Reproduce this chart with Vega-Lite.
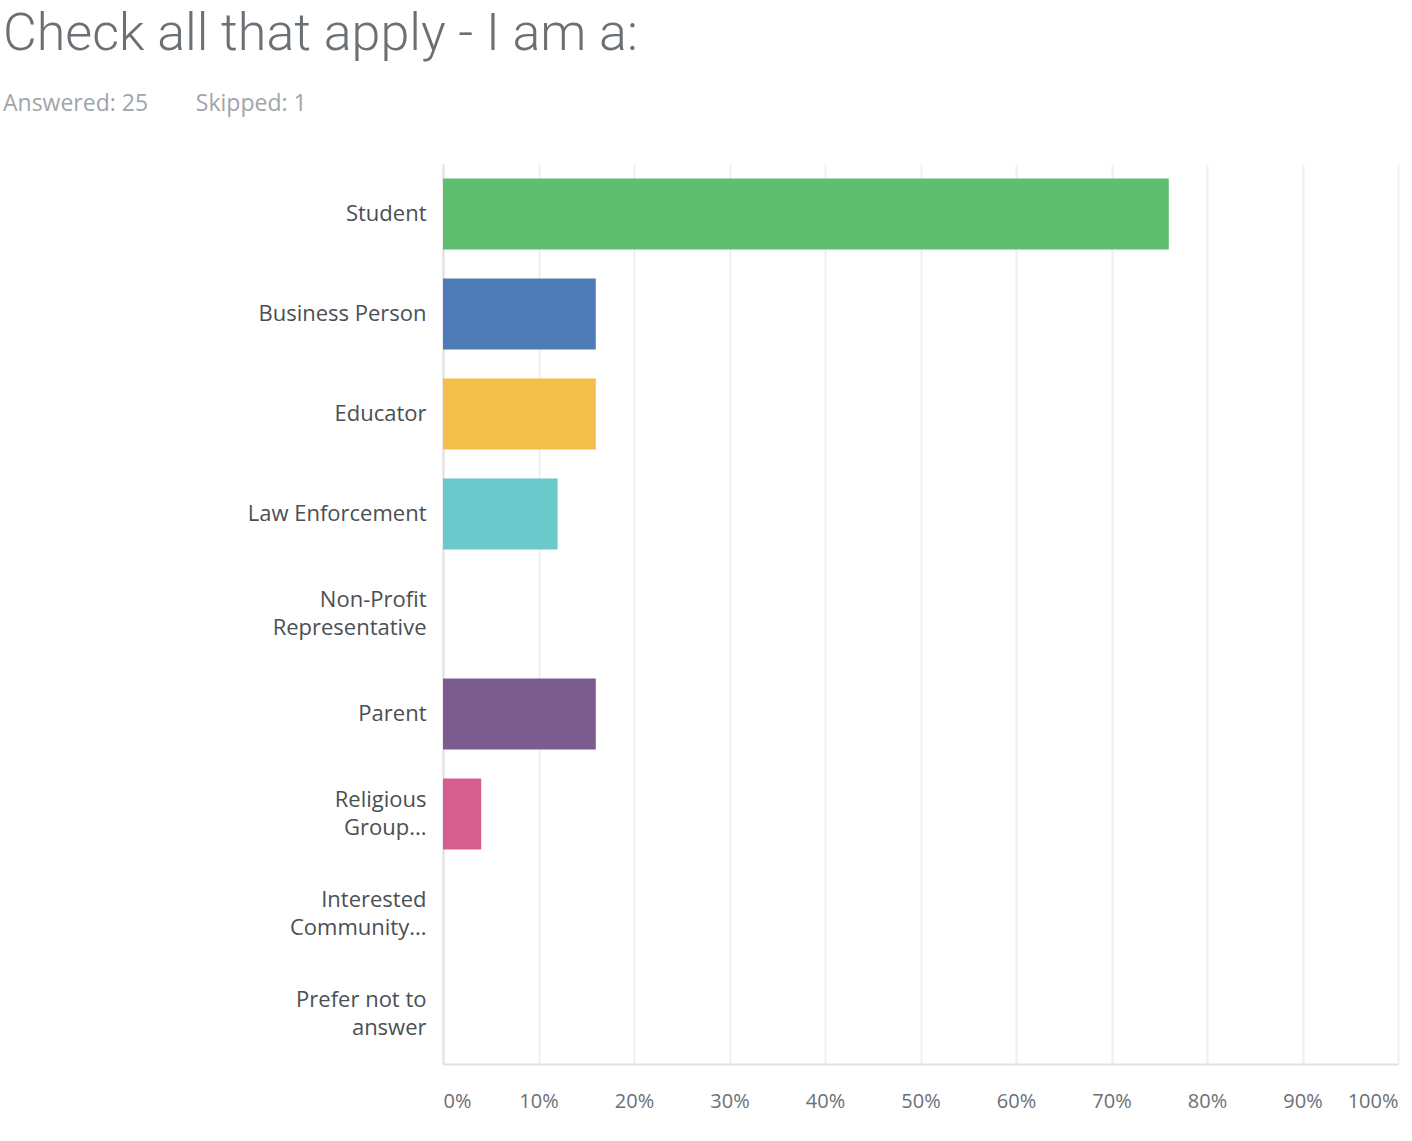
{
  "$schema": "https://vega.github.io/schema/vega-lite/v6.json",
  "autosize": {"type": "none"},
  "width": 955,
  "height": 900,
  "padding": {"left": 443, "top": 164, "right": 14, "bottom": 77},
  "background": "#ffffff",
  "title": {
    "text": "Check all that apply - I am a:",
    "subtitle": "Answered: 25\u00a0\u00a0\u00a0\u00a0\u00a0\u00a0\u00a0\u00a0Skipped: 1",
    "anchor": "start",
    "frame": "group",
    "dx": -440,
    "offset": 47,
    "font": "Roboto",
    "fontSize": 52,
    "fontWeight": 300,
    "color": "#6b7075",
    "subtitleFont": "Open Sans",
    "subtitleFontSize": 23,
    "subtitleColor": "#a0a5aa",
    "subtitlePadding": 32
  },
  "data": {
    "values": [
      {"answer": "Student", "share": 0.76},
      {"answer": "Business Person", "share": 0.16},
      {"answer": "Educator", "share": 0.16},
      {"answer": "Law Enforcement", "share": 0.12},
      {"answer": "Non-Profit Representative", "share": 0},
      {"answer": "Parent", "share": 0.16},
      {"answer": "Religious Group...", "share": 0.04},
      {"answer": "Interested Community...", "share": 0},
      {"answer": "Prefer not to answer", "share": 0}
    ]
  },
  "mark": {"type": "bar", "cornerRadius": 0},
  "encoding": {
    "y": {
      "field": "answer",
      "type": "nominal",
      "sort": null,
      "title": null,
      "scale": {"paddingInner": 0.29, "paddingOuter": 0.145},
      "axis": {
        "domain": true,
        "domainColor": "#e2e2e2",
        "domainWidth": 2,
        "ticks": false,
        "grid": false,
        "labelPadding": 17,
        "labelFont": "Open Sans",
        "labelFontSize": 22,
        "labelFontWeight": 500,
        "labelColor": "#4a4f54",
        "labelLineHeight": 28,
        "labelLimit": 400,
        "labelOffset": {
          "condition": {
            "test": "datum.value == 'Non-Profit Representative' || datum.value == 'Religious Group...' || datum.value == 'Interested Community...' || datum.value == 'Prefer not to answer'",
            "value": -14
          },
          "value": 0
        },
        "labelExpr": "datum.value == 'Non-Profit Representative' ? ['Non-Profit', 'Representative'] : datum.value == 'Religious Group...' ? ['Religious', 'Group...'] : datum.value == 'Interested Community...' ? ['Interested', 'Community...'] : datum.value == 'Prefer not to answer' ? ['Prefer not to', 'answer'] : datum.value"
      }
    },
    "x": {
      "field": "share",
      "type": "quantitative",
      "title": null,
      "scale": {"domain": [0, 1], "nice": false},
      "axis": {
        "values": [0, 0.1, 0.2, 0.3, 0.4, 0.5, 0.6, 0.7, 0.8, 0.9, 1],
        "format": ".0%",
        "grid": true,
        "gridColor": "#efefef",
        "gridWidth": 2,
        "domain": true,
        "domainColor": "#e2e2e2",
        "domainWidth": 2,
        "ticks": false,
        "labelPadding": 27,
        "labelFlush": true,
        "labelFont": "Open Sans",
        "labelFontSize": 20,
        "labelColor": "#6b7075"
      }
    },
    "color": {
      "field": "answer",
      "type": "nominal",
      "legend": null,
      "scale": {
        "domain": ["Student", "Business Person", "Educator", "Law Enforcement", "Non-Profit Representative", "Parent", "Religious Group...", "Interested Community...", "Prefer not to answer"],
        "range": ["#5dbf6f", "#4e7bb5", "#f4be4a", "#6bc8cb", "#96c868", "#7c5c8e", "#d55e8e", "#9a9fa4", "#f08a5d"]
      }
    }
  },
  "config": {"view": {"stroke": null}}
}
